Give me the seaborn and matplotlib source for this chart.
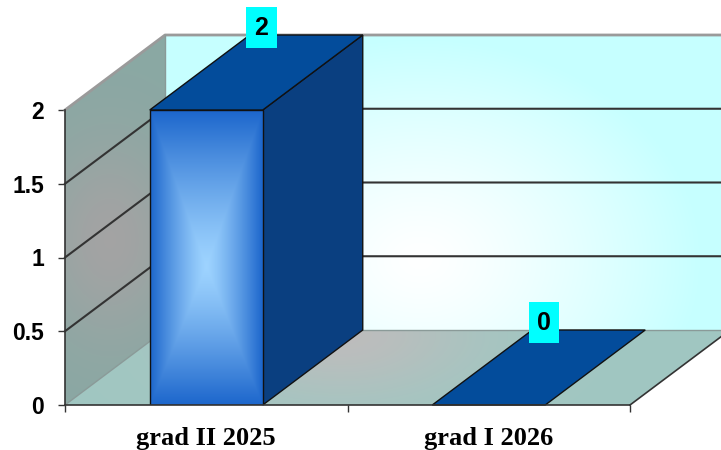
import numpy as np
import pandas as pd
import matplotlib
matplotlib.use("Agg")
import matplotlib.pyplot as plt
import seaborn as sns
from matplotlib.patches import Polygon

categories = ["grad II 2025", "grad I 2026"]
values = [2, 0]
yticks = [0, 0.5, 1, 1.5, 2]
ytick_labels = ["0", "0.5", "1", "1.5", "2"]

fig = plt.figure(figsize=(7.21, 4.5), dpi=100)
ax = fig.add_axes([65 / 721, 45 / 450, 565 / 721, 295 / 450])
df = pd.DataFrame({"cat": categories, "val": values})
sns.barplot(data=df, x="cat", y="val", width=0.4, color="#1f66c9",
            errorbar=None, ax=ax, zorder=4)
ax.set_xlim(-0.5, 1.5)
ax.set_ylim(0, 2)
ax.set_autoscale_on(False)
ax.patch.set_visible(False)
ax.set_xlabel("")
ax.set_ylabel("")

DX = 100 / 282.5
DY = 75 / 147.5


def to_px(x, y):
    return 65 + (x + 0.5) * 282.5, 405 - y * 147.5


def mix(c1, c2, t):
    c1 = np.array(c1)[None, None, :]
    c2 = np.array(c2)[None, None, :]
    t = t[..., None]
    return c1 * (1 - t) + c2 * t


def grad_poly(verts, colfunc, z, n=220):
    xs = [v[0] for v in verts]
    ys = [v[1] for v in verts]
    x0, x1, y0, y1 = min(xs), max(xs), min(ys), max(ys)
    X, Y = np.meshgrid(np.linspace(x0, x1, n), np.linspace(y0, y1, n))
    PX, PY = to_px(X, Y)
    img = np.clip(colfunc(PX, PY), 0, 1)
    poly = Polygon(verts, closed=True, facecolor="none", edgecolor="none",
                   transform=ax.transData)
    ax.add_patch(poly)
    im = ax.imshow(img, extent=(x0, x1, y0, y1), origin="lower", aspect="auto",
                   interpolation="bilinear", zorder=z)
    im.set_clip_path(poly)
    im.set_clip_box(fig.bbox)
    return im


# back wall
xr = 1.5 + DX + 0.3
back = [(-0.5 + DX, DY), (-0.5 + DX, 2 + DY), (xr, 2 + DY), (xr, DY)]


def back_col(px, py):
    r = np.hypot((px - 420) / 280, (py - 260) / 220)
    t = np.clip(r, 0, 1) ** 1.3
    return mix((1.0, 1.0, 1.0), (0.78, 1.0, 1.0), t)


grad_poly(back, back_col, 1)

# left wall
left = [(-0.5, 0), (-0.5, 2), (-0.5 + DX, 2 + DY), (-0.5 + DX, DY)]


def left_col(px, py):
    g = np.exp(-(((px - 110) / 70) ** 2 + ((py - 240) / 100) ** 2))
    return mix((0.54, 0.66, 0.64), (0.64, 0.64, 0.64), g)


grad_poly(left, left_col, 1)

# floor
floor = [(-0.5, 0), (1.5, 0), (1.5 + DX, DY), (-0.5 + DX, DY)]


def floor_col(px, py):
    g = np.exp(-(((px - 340) / 130) ** 2 + ((py - 335) / 60) ** 2))
    return mix((0.63, 0.78, 0.76), (0.74, 0.74, 0.74), g)


grad_poly(floor, floor_col, 1.2)

# wall edges and grid lines
ax.plot([-0.5, -0.5 + DX, xr], [2, 2 + DY, 2 + DY], color="#9a9a9a", lw=2,
        zorder=2, clip_on=False)
ax.plot([-0.5 + DX, -0.5 + DX], [DY, 2 + DY], color="#8a9a98", lw=1,
        zorder=2, clip_on=False)
ax.plot([-0.5 + DX, xr], [DY, DY], color="#8a9a98", lw=1, zorder=2, clip_on=False)
ax.plot([1.5, 1.5 + DX], [0, DY], color="#333333", lw=1.2, zorder=2, clip_on=False)
ax.plot([-0.5, -0.5 + DX], [0, DY], color="#8a9a98", lw=1, zorder=2, clip_on=False)
for g in yticks[1:-1]:
    ax.plot([-0.5, -0.5 + DX, xr], [g, g + DY, g + DY], color="#333333",
            lw=1.5, zorder=2, clip_on=False)

# bar 3D faces
bars = [p for p in ax.patches if isinstance(p, matplotlib.patches.Rectangle)][:len(values)]
for p, v in zip(bars, values):
    x0 = p.get_x()
    x1 = x0 + p.get_width()
    h = p.get_height()
    if h > 0:
        side = Polygon([(x1, 0), (x1, h), (x1 + DX, h + DY), (x1 + DX, DY)],
                       closed=True, facecolor="#0a3f80", edgecolor="#111111",
                       lw=1, zorder=3, clip_on=False)
        ax.add_patch(side)
    top = Polygon([(x0, h), (x1, h), (x1 + DX, h + DY), (x0 + DX, h + DY)],
                  closed=True, facecolor="#034c9b", edgecolor="#111111",
                  lw=1, zorder=3, clip_on=False)
    ax.add_patch(top)
    if h > 0:
        X, Y = np.meshgrid(np.linspace(-1, 1, 200), np.linspace(0, 1, 400))
        vc = 0.47
        dv = np.where(Y > vc, (Y - vc) / (1 - vc), (vc - Y) / vc)
        d = np.maximum(np.abs(X), dv)
        t = np.clip(d, 0, 1) ** 1.25
        img = mix((0.62, 0.83, 1.0), (0.11, 0.40, 0.80), t)
        im = ax.imshow(img, extent=(x0, x1, 0, h), origin="lower", aspect="auto",
                       interpolation="bilinear", zorder=3.5)
        im.set_clip_path(p)
    p.set_facecolor("none")
    p.set_edgecolor("#111111")
    p.set_linewidth(1)
    p.set_zorder(4)

# value labels
for i, v in enumerate(values):
    ax.text(i + 0.195, v + DY + 0.05, f"{v:g}", ha="center", va="center",
            fontsize=18, fontweight="bold", family="Liberation Sans",
            bbox=dict(boxstyle="square,pad=0.33", fc="#00ffff", ec="none"),
            zorder=6, clip_on=False)

# axes styling
for s in ["top", "right"]:
    ax.spines[s].set_visible(False)
for s in ["left", "bottom"]:
    ax.spines[s].set_color("#333333")
    ax.spines[s].set_linewidth(1.2)
    ax.spines[s].set_zorder(5)

ax.set_yticks(yticks, ytick_labels)
ax.tick_params(axis="y", length=5, width=1, color="#333333", pad=10)
for t in ax.get_yticklabels():
    t.set_fontsize(16.5)
    t.set_fontweight("bold")
    t.set_family("Liberation Sans")

ax.set_xticks(range(len(categories)), categories)
ax.set_xticks([-0.5, 0.5, 1.5], minor=True)
ax.tick_params(axis="x", which="major", length=0, pad=16)
ax.tick_params(axis="x", which="minor", length=5, width=1, color="#333333")
for t in ax.get_xticklabels():
    t.set_fontsize(19)
    t.set_fontweight("bold")
    t.set_family("Liberation Serif")

fig.savefig("out.png", dpi=100)
